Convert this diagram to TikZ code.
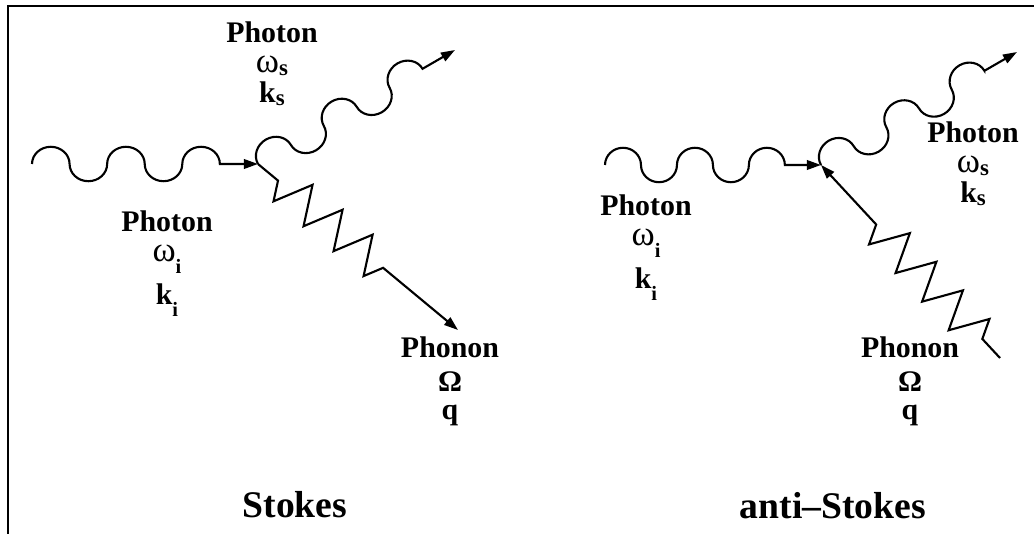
\documentclass[tikz,border=0pt]{standalone}
\usepackage{fontspec}
\setmainfont{Liberation Serif}
\usetikzlibrary{arrows.meta, decorations.pathmorphing}

\newcommand{\lblfont}{\fontsize{8.5}{8.5}\selectfont\bfseries}
\newcommand{\ttlfont}{\fontsize{10.7}{12}\selectfont\bfseries}
\newcommand{\subi}{\raisebox{-3.4pt}{\fontsize{5.8}{5.8}\selectfont i}}
\newcommand{\subs}{\raisebox{-0.8pt}{\fontsize{6.5}{6.5}\selectfont s}}
\newcommand{\omg}{{\mdseries\fontsize{10}{8.5}\selectfont ω}}

% photon line: half ellipses, alternately left and right of the path
\pgfdeclaredecoration{humps}{up}{
  \state{up}[width=+.5\pgfdecorationsegmentlength, next state=down,
             switch if less than=+.45\pgfdecorationsegmentlength to final]{
    \pgfpathcurveto{\pgfqpoint{0pt}{.5523\pgfdecorationsegmentamplitude}}
                   {\pgfqpoint{.1119\pgfdecorationsegmentlength}{\pgfdecorationsegmentamplitude}}
                   {\pgfqpoint{.25\pgfdecorationsegmentlength}{\pgfdecorationsegmentamplitude}}
    \pgfpathcurveto{\pgfqpoint{.3881\pgfdecorationsegmentlength}{\pgfdecorationsegmentamplitude}}
                   {\pgfqpoint{.5\pgfdecorationsegmentlength}{.5523\pgfdecorationsegmentamplitude}}
                   {\pgfqpoint{.5\pgfdecorationsegmentlength}{0pt}}
  }
  \state{down}[width=+.5\pgfdecorationsegmentlength, next state=up,
               switch if less than=+.45\pgfdecorationsegmentlength to final]{
    \pgfpathcurveto{\pgfqpoint{0pt}{-.5523\pgfdecorationsegmentamplitude}}
                   {\pgfqpoint{.1119\pgfdecorationsegmentlength}{-\pgfdecorationsegmentamplitude}}
                   {\pgfqpoint{.25\pgfdecorationsegmentlength}{-\pgfdecorationsegmentamplitude}}
    \pgfpathcurveto{\pgfqpoint{.3881\pgfdecorationsegmentlength}{-\pgfdecorationsegmentamplitude}}
                   {\pgfqpoint{.5\pgfdecorationsegmentlength}{-.5523\pgfdecorationsegmentamplitude}}
                   {\pgfqpoint{.5\pgfdecorationsegmentlength}{0pt}}
  }
  \state{final}{\pgfpathlineto{\pgfpointdecoratedpathlast}}
}

\begin{document}
\begin{tikzpicture}[
  x=0.01cm, y=-0.01cm,
  line width=0.6pt,
  lbl/.style={font=\lblfont, inner sep=0pt, anchor=base},
  ttl/.style={font=\ttlfont, inner sep=0pt, anchor=base},
  frame/.style={line width=0.5pt},
  tip/.style={-{Triangle[length=4pt, width=2.7pt]}},
  photon/.style 2 args={tip, decorate,
    decoration={humps, segment length=#1, amplitude=0.172cm, post length=#2}},
  phonon/.style 2 args={decorate,
    decoration={zigzag, segment length=0.39cm, amplitude=-0.188cm,
      pre length=#1, post length=#2}}
]
\useasboundingbox (0,0) rectangle (1034,534);
\draw[frame] (8,534) -- (8,6) -- (1034,6);

% Stokes
\coordinate (vS) at (258,164);
\coordinate (inS) at (32,164);
\coordinate (outS) at (455,50);
\coordinate (qS) at (458,330);

\draw[photon={0.751cm}{0.38cm}] (inS) -- (vS);
\draw[photon={0.76cm}{0.367cm}] (vS) -- (outS);
\draw[tip, phonon={0.26cm}{0.78cm}] (vS) -- (qS);

\node[lbl] (wsS) at (272,43) {\begin{tabular}[t]{@{}c@{}}Photon\\ \omg\subs\\ k\subs\end{tabular}};
\node[lbl] (wiS) at (167,232) {\begin{tabular}[t]{@{}c@{}}Photon\\ \omg\subi\\[3.6pt] k\subi\end{tabular}};
\node[lbl] (phS) at (450,357) {\begin{tabular}[t]{@{}c@{}}Phonon\\[1.2pt] Ω\\[-0.3pt] q\end{tabular}};
\node[ttl] (stokes) at (295,517) {Stokes};

% anti-Stokes
\coordinate (vA) at (821,165);
\coordinate (inA) at (605,165);
\coordinate (outA) at (1017,52);
\coordinate (qA) at (1000,358);

\draw[photon={0.719cm}{0.36cm}] (inA) -- (vA);
\draw[photon={0.754cm}{0.367cm}] (vA) -- (outA);
\draw[tip, phonon={0.26cm}{0.79cm}] (qA) -- (vA);

\node[lbl] (wsA) at (973,143) {\begin{tabular}[t]{@{}c@{}}Photon\\ \omg\subs\\ k\subs\end{tabular}};
\node[lbl] (wiA) at (646,216) {\begin{tabular}[t]{@{}c@{}}Photon\\ \omg\subi\\[3.6pt] k\subi\end{tabular}};
\node[lbl] (phA) at (910,357) {\begin{tabular}[t]{@{}c@{}}Phonon\\[1.2pt] Ω\\[-0.3pt] q\end{tabular}};
\node[ttl] (antistokes) at (833,518) {anti--Stokes};
\end{tikzpicture}
\end{document}
